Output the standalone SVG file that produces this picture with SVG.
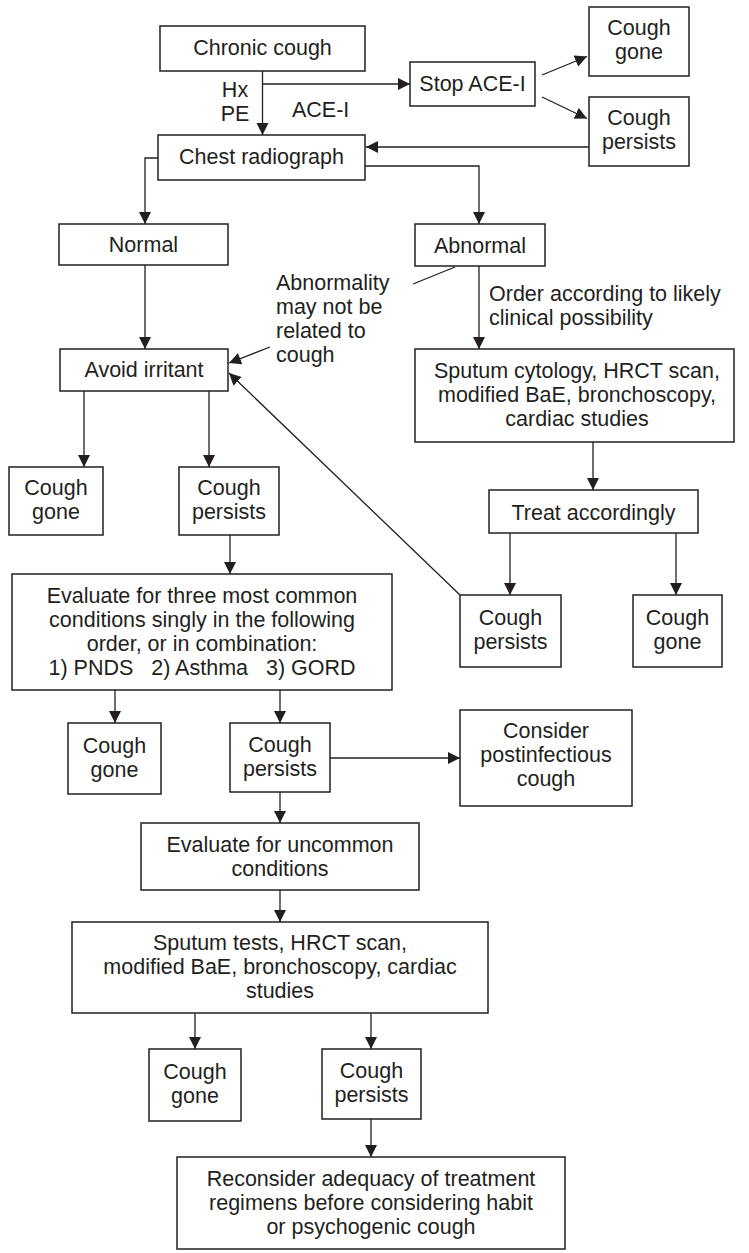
<svg xmlns="http://www.w3.org/2000/svg" width="749" height="1253" viewBox="0 0 749 1253">
<defs>
<marker id="ah" markerUnits="userSpaceOnUse" markerWidth="13" markerHeight="13" refX="12" refY="6" orient="auto">
<path d="M0,0 L12,6 L0,12 z" fill="#231f20"/>
</marker>
<style>
.b{fill:#fff;stroke:#231f20;stroke-width:1.5}
.t{font-family:"Liberation Sans",Arial,sans-serif;font-size:21.5px;fill:#231f20;text-anchor:middle}
.l{font-family:"Liberation Sans",Arial,sans-serif;font-size:21.5px;fill:#231f20;text-anchor:start}
.c{fill:none;stroke:#231f20;stroke-width:1.3}
.a{marker-end:url(#ah)}
</style>
</defs>
<rect width="749" height="1253" fill="#fff"/>
<g id="connectors">
<path class="c a" d="M262.5,71 V135"/>
<path class="c a" d="M262.5,84 H410"/>
<path class="c a" d="M542,75 L587,56.5"/>
<path class="c a" d="M542,97 L587,118.5"/>
<path class="c a" d="M589,147 H366"/>
<path class="c a" d="M365,166 H479 V224"/>
<path class="c a" d="M158,158 H145 V224"/>
<path class="c a" d="M145,265 V349"/>
<path class="c a" d="M479,266 V349"/>
<path class="c" d="M413,284 L455,267"/>
<path class="c a" d="M270,347 L229,363"/>
<path class="c a" d="M460,595 L229,373"/>
<path class="c a" d="M84,391 V467"/>
<path class="c a" d="M209,391 V467"/>
<path class="c a" d="M230,535 V574"/>
<path class="c a" d="M593,442 V490"/>
<path class="c a" d="M510,533 V595"/>
<path class="c a" d="M676,533 V595"/>
<path class="c a" d="M115,690 V723"/>
<path class="c a" d="M280,690 V723"/>
<path class="c a" d="M330,758 H460"/>
<path class="c a" d="M280,792 V823"/>
<path class="c a" d="M280,890 V922"/>
<path class="c a" d="M195,1013 V1049"/>
<path class="c a" d="M371,1013 V1049"/>
<path class="c a" d="M371,1119 V1157"/>
<text class="t" x="235" y="97">Hx</text>
<text class="t" x="235" y="121">PE</text>
<text class="l" x="292" y="117">ACE-I</text>
</g>
<g id="chronic"><rect class="b" x="160" y="26" width="205" height="45"/><text class="t" x="262.5" y="55">Chronic cough</text></g>
<g id="stopace"><rect class="b" x="410" y="62" width="125" height="44"/><text class="t" x="472.5" y="91">Stop ACE-I</text></g>
<g id="gone1"><rect class="b" x="589" y="7" width="100" height="69"/><text class="t" x="639" y="35">Cough</text><text class="t" x="639" y="59">gone</text></g>
<g id="persists1"><rect class="b" x="589" y="97" width="100" height="69"/><text class="t" x="639" y="125">Cough</text><text class="t" x="639" y="149">persists</text></g>
<g id="chest"><rect class="b" x="158" y="135" width="207" height="45"/><text class="t" x="261.5" y="164">Chest radiograph</text></g>
<g id="normal"><rect class="b" x="59" y="224" width="169" height="41"/><text class="t" x="143.5" y="252">Normal</text></g>
<g id="abnormal"><rect class="b" x="415" y="224" width="130" height="42"/><text class="t" x="480" y="253">Abnormal</text></g>
<g id="note"><text class="l" x="276" y="290">Abnormality</text><text class="l" x="276" y="314">may not be</text><text class="l" x="276" y="338">related to</text><text class="l" x="276" y="362">cough</text></g>
<g id="order"><text class="l" x="489" y="301">Order according to likely</text><text class="l" x="489" y="325">clinical possibility</text></g>
<g id="avoid"><rect class="b" x="60" y="349" width="168" height="42"/><text class="t" x="144" y="377">Avoid irritant</text></g>
<g id="sputum1"><rect class="b" x="415" y="349" width="319" height="93"/><text class="t" x="577" y="378">Sputum cytology, HRCT scan,</text><text class="t" x="577" y="402">modified BaE, bronchoscopy,</text><text class="t" x="577" y="426">cardiac studies</text></g>
<g id="gone2"><rect class="b" x="9" y="467" width="94" height="68"/><text class="t" x="56" y="495">Cough</text><text class="t" x="56" y="519">gone</text></g>
<g id="persists2"><rect class="b" x="179" y="467" width="100" height="68"/><text class="t" x="229" y="495">Cough</text><text class="t" x="229" y="519">persists</text></g>
<g id="eval3"><rect class="b" x="12" y="574" width="380" height="116"/><text class="t" x="202" y="603">Evaluate for three most common</text><text class="t" x="202" y="627">conditions singly in the following</text><text class="t" x="202" y="651">order, or in combination:</text><text class="t" x="202" y="675" xml:space="preserve">1) PNDS   2) Asthma   3) GORD</text></g>
<g id="treat"><rect class="b" x="489" y="490" width="209" height="43"/><text class="t" x="593.5" y="520">Treat accordingly</text></g>
<g id="persists3"><rect class="b" x="460" y="595" width="101" height="72"/><text class="t" x="510.5" y="625">Cough</text><text class="t" x="510.5" y="649">persists</text></g>
<g id="gone3"><rect class="b" x="633" y="595" width="89" height="72"/><text class="t" x="677.5" y="625">Cough</text><text class="t" x="677.5" y="649">gone</text></g>
<g id="gone4"><rect class="b" x="68" y="723" width="93" height="71"/><text class="t" x="114.5" y="753">Cough</text><text class="t" x="114.5" y="777">gone</text></g>
<g id="persists4"><rect class="b" x="230" y="723" width="100" height="69"/><text class="t" x="280" y="752">Cough</text><text class="t" x="280" y="776">persists</text></g>
<g id="consider"><rect class="b" x="460" y="710" width="172" height="96"/><text class="t" x="546" y="738">Consider</text><text class="t" x="546" y="762">postinfectious</text><text class="t" x="546" y="786">cough</text></g>
<g id="evaluncommon"><rect class="b" x="141" y="823" width="278" height="67"/><text class="t" x="280" y="852">Evaluate for uncommon</text><text class="t" x="280" y="876">conditions</text></g>
<g id="sputum2"><rect class="b" x="72" y="922" width="416" height="91"/><text class="t" x="280" y="950">Sputum tests, HRCT scan,</text><text class="t" x="280" y="974">modified BaE, bronchoscopy, cardiac</text><text class="t" x="280" y="998">studies</text></g>
<g id="gone5"><rect class="b" x="149" y="1049" width="92" height="72"/><text class="t" x="195" y="1079">Cough</text><text class="t" x="195" y="1103">gone</text></g>
<g id="persists5"><rect class="b" x="322" y="1049" width="99" height="70"/><text class="t" x="371.5" y="1078">Cough</text><text class="t" x="371.5" y="1102">persists</text></g>
<g id="reconsider"><rect class="b" x="177" y="1157" width="388" height="92"/><text class="t" x="371" y="1186">Reconsider adequacy of treatment</text><text class="t" x="371" y="1210">regimens before considering habit</text><text class="t" x="371" y="1234">or psychogenic cough</text></g>
</svg>
